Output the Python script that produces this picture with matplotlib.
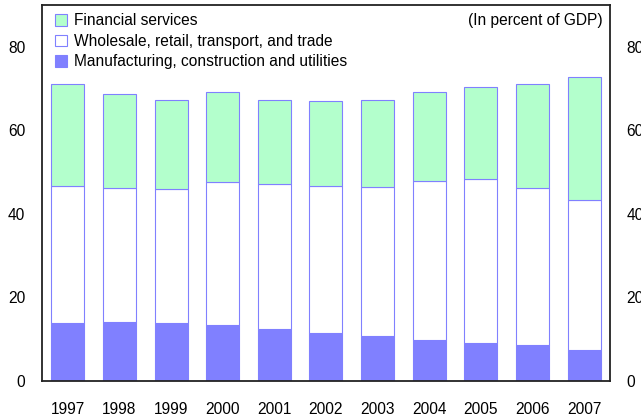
import matplotlib
matplotlib.use('Agg')

import numpy as np
from matplotlib import pyplot as plt
from matplotlib.patches import Patch

years = ['1997', '1998', '1999', '2000', '2001', '2002', '2003', '2004', '2005', '2006', '2007']
manufacturing = [13.9, 14.2, 13.8, 13.4, 12.4, 11.6, 10.7, 9.9, 9.2, 8.7, 7.5]
wholesale = [32.8, 32.1, 32.1, 34.3, 34.7, 35.2, 35.8, 37.9, 39.1, 37.5, 35.9]
financial = [24.3, 22.5, 21.5, 21.4, 20.3, 20.3, 20.9, 21.4, 22.2, 25.0, 29.4]
series_labels = ['Financial services',
                 'Wholesale, retail, transport, and trade',
                 'Manufacturing, construction and utilities']


def main(output='out.png'):
    plt.rcParams['font.family'] = ['Liberation Sans', 'DejaVu Sans']
    plt.rcParams['font.size'] = 11.2

    edge = '#8080ff'
    c_man, c_whl, c_fin = '#8080ff', '#ffffff', '#b3ffcc'

    fig = plt.figure(figsize=(6.41, 4.19), dpi=100)
    ax = fig.add_axes([0.0655, 0.0907, 0.886, 0.897])

    x = np.arange(len(years))
    m = np.array(manufacturing)
    w = np.array(wholesale)
    f = np.array(financial)
    width = 0.64
    ax.bar(x, m, width, color=c_man, edgecolor=edge, linewidth=0.8)
    ax.bar(x, w, width, bottom=m, color=c_whl, edgecolor=edge, linewidth=0.8)
    ax.bar(x, f, width, bottom=m + w, color=c_fin, edgecolor=edge, linewidth=0.8)

    ax.set_xlim(-0.5, len(years) - 0.5)
    ax.set_ylim(0, 90)
    ax.set_yticks([0, 20, 40, 60, 80])
    ax.set_xticks(x)
    ax.set_xticklabels(years)
    ax.tick_params(axis='x', length=0, pad=15)
    ax.tick_params(axis='y', length=0, pad=12, labelright=True)
    for s in ax.spines.values():
        s.set_linewidth(1.3)
        s.set_color('#222222')

    handles = [Patch(facecolor=c_fin, edgecolor=edge, linewidth=0.8),
               Patch(facecolor=c_whl, edgecolor=edge, linewidth=0.8),
               Patch(facecolor=c_man, edgecolor=edge, linewidth=0.8)]
    ax.legend(handles, series_labels, loc='upper left', frameon=False,
              handlelength=0.75, handleheight=0.75, handletextpad=0.5,
              labelspacing=0.35, borderpad=0, borderaxespad=0,
              bbox_to_anchor=(0.023, 0.978))
    ax.text(0.988, 0.978, '(In percent of GDP)', transform=ax.transAxes,
            ha='right', va='top')

    fig.savefig(output, dpi=100)


if __name__ == '__main__':
    main()
